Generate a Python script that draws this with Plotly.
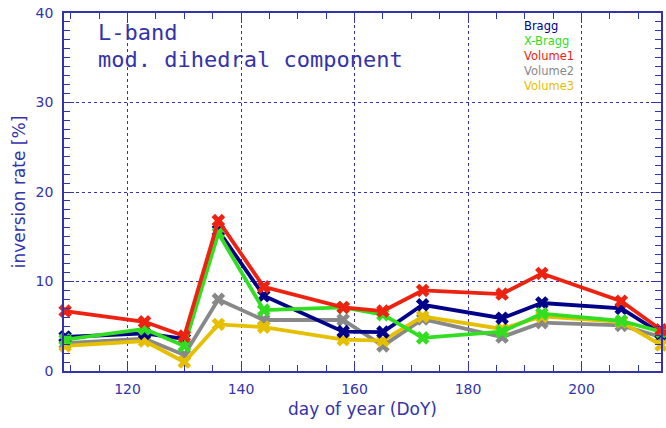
import plotly.graph_objects as go

doy = [109, 123, 130, 136, 144, 158, 165, 172, 186, 193, 207, 214]
series_names = ["Bragg", "X-Bragg", "Volume1", "Volume2", "Volume3"]
bragg   = [3.8, 4.2, 3.6, 15.7, 8.4, 4.4, 4.35, 7.4, 5.9, 7.6, 7.0, 4.2]
xbragg  = [3.5, 4.7, 2.8, 15.4, 6.8, 7.1, 6.3, 3.7, 4.4, 6.4, 5.6, 4.4]
volume1 = [6.7, 5.5, 3.9, 16.8, 9.4, 7.1, 6.7, 9.0, 8.6, 10.9, 7.8, 4.6]
volume2 = [3.1, 3.6, 1.8, 8.0, 5.7, 5.7, 2.8, 5.8, 3.8, 5.4, 5.1, 3.8]
volume3 = [2.8, 3.35, 1.0, 5.2, 4.9, 3.5, 3.4, 6.1, 4.7, 6.1, 5.5, 2.9]
colors = ["#000088", "#33dd22", "#ee2211", "#888888", "#e6c000"]

AX = "#3333aa"
FONT = "DejaVu Sans"
MONO = "DejaVu Sans Mono"

L, R, T, B = 64, 5, 13, 57
W, H = 666, 428
pw, ph = W - L - R, H - T - B

def px(x):
    return (x - L) / pw

def py(y):
    return 1 - (y - T) / ph

fig = go.Figure()
data = [bragg, xbragg, volume1, volume2, volume3]
order = [3, 4, 0, 1, 2]
for i in order:
    fig.add_trace(go.Scatter(
        x=doy, y=data[i], mode="lines+markers", name=series_names[i],
        line=dict(color=colors[i], width=3.8),
        marker=dict(symbol="x", size=12, color=colors[i], line=dict(width=0)),
        showlegend=False, cliponaxis=False,
    ))

legend_text = "<br>".join(
    f"<span style='color:{c}'>{nm}</span>" for nm, c in zip(series_names, colors)
)
fig.add_annotation(x=px(522), y=py(17), xref="paper", yref="paper", text=legend_text,
                   showarrow=False, xanchor="left", yanchor="top", align="left",
                   font=dict(family=FONT, size=11.5, color=AX))

fig.add_annotation(text="L-band", x=px(96), y=py(32), xref="paper", yref="paper",
                   showarrow=False, xanchor="left", yanchor="middle",
                   font=dict(family=MONO, size=22, color=AX))
fig.add_annotation(text="mod. dihedral component", x=px(96), y=py(59), xref="paper", yref="paper",
                   showarrow=False, xanchor="left", yanchor="middle",
                   font=dict(family=MONO, size=22, color=AX))

fig.update_layout(
    width=W, height=H,
    margin=dict(l=L, r=R, t=T, b=B, autoexpand=False),
    plot_bgcolor="white", paper_bgcolor="white",
    font=dict(family=FONT, color=AX),
)
fig.update_xaxes(
    range=[108.8, 214], tick0=0, dtick=20, automargin=False,
    showline=True, linecolor=AX, linewidth=1.5, mirror="allticks",
    ticks="inside", ticklen=10, tickcolor=AX, ticklabelstandoff=4,
    minor=dict(dtick=5, tick0=0, ticks="inside", ticklen=6, tickcolor=AX, showgrid=False),
    showgrid=True, gridcolor=AX, griddash="dot", gridwidth=1,
    zeroline=False, tickfont=dict(size=14, color=AX),
    title=dict(text="day of year (DoY)", font=dict(size=17, color=AX), standoff=8),
)
fig.update_yaxes(
    range=[0, 40], tick0=0, dtick=10, automargin=False,
    showline=True, linecolor=AX, linewidth=1.5, mirror="allticks",
    ticks="inside", ticklen=10, tickcolor=AX, ticklabelstandoff=6,
    minor=dict(dtick=1, tick0=0, ticks="inside", ticklen=6, tickcolor=AX, showgrid=False),
    showgrid=True, gridcolor=AX, griddash="dot", gridwidth=1,
    zeroline=False, tickfont=dict(size=14, color=AX),
    title=dict(text="inversion rate [%]", font=dict(size=17, color=AX), standoff=6),
)
fig.write_html("out.html", config={"displayModeBar": False},
               post_script="document.body.style.margin='0';")
